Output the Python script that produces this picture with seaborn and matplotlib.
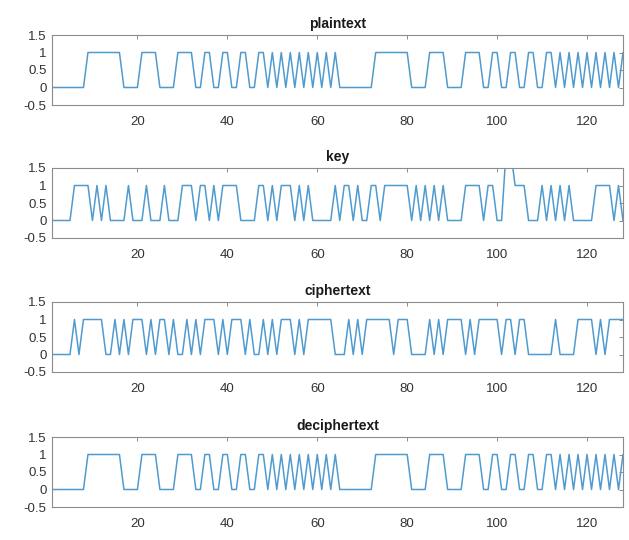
import matplotlib
matplotlib.use('Agg')
import matplotlib.pyplot as plt
import pandas as pd
import seaborn as sns

# sample index 1..128
sample = list(range(1, 129))

plaintext = [0, 0, 0, 0, 0, 0, 0, 0, 1, 1, 1, 1, 1, 1, 1, 1,
             0, 0, 0, 0, 1, 1, 1, 1, 0, 0, 0, 0, 1, 1, 1, 1,
             0, 0, 1, 1, 0, 0, 1, 1, 0, 0, 1, 1, 0, 0, 1, 1,
             0, 1, 0, 1, 0, 1, 0, 1, 0, 1, 0, 1, 0, 1, 0, 1,
             0, 0, 0, 0, 0, 0, 0, 0, 1, 1, 1, 1, 1, 1, 1, 1,
             0, 0, 0, 0, 1, 1, 1, 1, 0, 0, 0, 0, 1, 1, 1, 1,
             0, 0, 1, 1, 0, 0, 1, 1, 0, 0, 1, 1, 0, 0, 1, 1,
             0, 1, 0, 1, 0, 1, 0, 1, 0, 1, 0, 1, 0, 1, 0, 1]

key = [0, 0, 0, 0, 0, 1, 1, 1, 1, 0, 1, 0, 1, 0, 0, 0,
       0, 1, 0, 0, 0, 1, 0, 0, 0, 1, 0, 0, 0, 1, 1, 1,
       0, 1, 1, 0, 1, 0, 1, 1, 1, 1, 0, 0, 0, 0, 1, 1,
       0, 1, 0, 1, 1, 1, 0, 1, 0, 1, 0, 0, 0, 0, 0, 1,
       0, 1, 1, 0, 1, 0, 0, 1, 1, 0, 1, 1, 1, 1, 1, 1,
       0, 1, 0, 1, 0, 1, 0, 1, 0, 0, 0, 0, 1, 1, 1, 1,
       0, 1, 1, 0, 0, 2, 2, 1, 1, 1, 0, 0, 0, 1, 0, 1,
       0, 1, 0, 1, 0, 0, 0, 0, 0, 1, 1, 1, 1, 0, 1, 0]

ciphertext = [0, 0, 0, 0, 0, 1, 0, 1, 1, 1, 1, 1, 0, 0, 1, 0,
              1, 0, 1, 1, 1, 0, 1, 0, 1, 1, 0, 1, 0, 0, 1, 0,
              1, 0, 1, 1, 1, 0, 1, 0, 1, 1, 1, 0, 1, 0, 0, 1,
              0, 1, 0, 1, 1, 1, 0, 1, 0, 1, 1, 1, 1, 1, 1, 0,
              0, 0, 1, 0, 1, 0, 1, 1, 1, 1, 1, 1, 0, 1, 1, 1,
              0, 0, 0, 0, 1, 0, 1, 0, 1, 1, 1, 1, 0, 1, 0, 1,
              1, 1, 1, 1, 0, 1, 1, 0, 1, 1, 0, 0, 0, 0, 0, 0,
              1, 0, 0, 0, 0, 1, 1, 1, 1, 0, 1, 0, 1, 1, 1, 1]

deciphertext = [0, 0, 0, 0, 0, 0, 0, 0, 1, 1, 1, 1, 1, 1, 1, 1,
                0, 0, 0, 0, 1, 1, 1, 1, 0, 0, 0, 0, 1, 1, 1, 1,
                0, 0, 1, 1, 0, 0, 1, 1, 0, 0, 1, 1, 0, 0, 1, 1,
                0, 1, 0, 1, 0, 1, 0, 1, 0, 1, 0, 1, 0, 1, 0, 1,
                0, 0, 0, 0, 0, 0, 0, 0, 1, 1, 1, 1, 1, 1, 1, 1,
                0, 0, 0, 0, 1, 1, 1, 1, 0, 0, 0, 0, 1, 1, 1, 1,
                0, 0, 1, 1, 0, 0, 1, 1, 0, 0, 1, 1, 0, 0, 1, 1,
                0, 1, 0, 1, 0, 1, 0, 1, 0, 1, 0, 1, 0, 1, 0, 1]

titles = ['plaintext', 'key', 'ciphertext', 'deciphertext']
series = [plaintext, key, ciphertext, deciphertext]
xticks = [20, 40, 60, 80, 100, 120]
yticks = [-0.5, 0, 0.5, 1, 1.5]
ytick_labels = ['-0.5', '0', '0.5', '1', '1.5']

sns.set_theme(style='white')
plt.rcParams['font.family'] = ['Liberation Sans', 'DejaVu Sans']

W, H = 629, 540
fig = plt.figure(figsize=(W / 100, H / 100), dpi=100)
fig.patch.set_facecolor('white')

# axes top edges in pixels (MATLAB subplot(4,1,k) look)
tops = [35, 168, 302, 437]
for top, title, vals in zip(tops, titles, series):
    ax = fig.add_axes([52 / W, 1 - (top + 70) / H, 571 / W, 70 / H])
    df = pd.DataFrame({'n': sample, 'v': vals})
    sns.lineplot(data=df, x='n', y='v', ax=ax, color='#4f9bcf', linewidth=1.1)
    ax.set_xlim(1, 128)
    ax.set_ylim(-0.5, 1.5)
    ax.set_xticks(xticks)
    ax.set_yticks(yticks)
    ax.set_yticklabels(ytick_labels)
    ax.set_xlabel('')
    ax.set_ylabel('')
    ax.tick_params(direction='in', top=True, right=True, length=3, width=0.7,
                   labelsize=9.5, colors='#8c8c8c', labelcolor='#333333')
    ax.tick_params(axis='x', pad=8)
    ax.tick_params(axis='y', pad=4)
    for s in ax.spines.values():
        s.set_color('#8c8c8c')
        s.set_linewidth(0.8)
    ax.set_title(title, fontweight='bold', fontsize=10, pad=5, color='#1a1a1a')

fig.savefig('out.png', dpi=100)
